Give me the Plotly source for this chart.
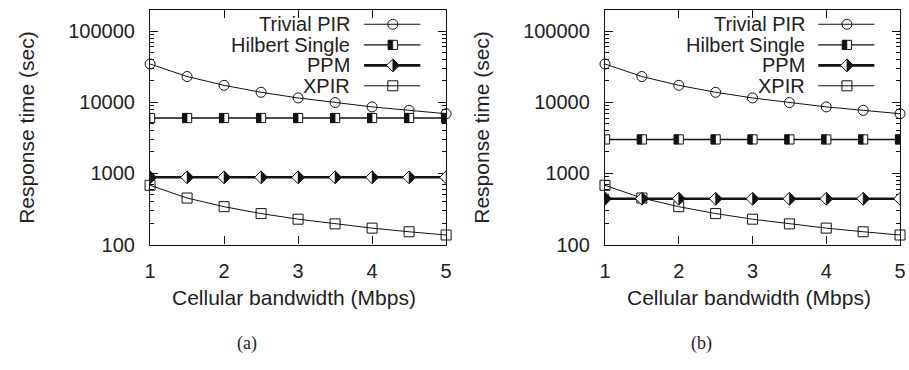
import plotly.graph_objects as go

# Cellular bandwidth (Mbps) sampled every 0.5
bandwidth = [1, 1.5, 2, 2.5, 3, 3.5, 4, 4.5, 5]

# Response times (sec)
trivial_pir = [34500, 23000, 17300, 13800, 11500, 9900, 8600, 7700, 6900]
xpir = [680, 450, 340, 272, 227, 195, 170, 151, 136]
hilbert_a = [6000, 6000, 6000, 6000, 6000, 6000, 6000, 6000, 6000]
ppm_a = [880, 880, 880, 880, 880, 880, 880, 880, 880]
hilbert_b = [3000, 3000, 3000, 3000, 3000, 3000, 3000, 3000, 3000]
ppm_b = [440, 440, 440, 440, 440, 440, 440, 440, 440]

series_names = ["Trivial PIR", "Hilbert Single", "PPM", "XPIR"]
y_tick_vals = [100, 1000, 10000, 100000]
y_tick_text = ["100", "1000", "10000", "100000"]
x_tick_vals = [1, 2, 3, 4, 5]
captions = ["(a)", "(b)"]

# minor log ticks 2..9 within each decade
y_minor_vals = [m * d for d in (100, 1000, 10000, 100000) for m in range(2, 10)]

W, H = 909, 370
FONT = "Liberation Sans, Arial, sans-serif"
BLACK = "#111111"
TEXT = "#222222"

# panel frames in pixels: (left, right), shared top/bottom
frames = [(146, 446), (607, 906)]
top_px, bot_px = 10, 252
y_dom = [(H - bot_px) / H, (H - top_px) / H]

# half-filled point glyphs as pixel paths (outline, filled half)
SQ = 4.6
DI = 6.4
half_glyphs = {
    "Hilbert Single": (
        f"M{-SQ},{-SQ} L{SQ},{-SQ} L{SQ},{SQ} L{-SQ},{SQ} Z",
        f"M{-SQ},{-SQ} L0,{-SQ} L0,{SQ} L{-SQ},{SQ} Z",
    ),
    "PPM": (
        f"M{-DI},0 L0,{DI} L{DI},0 L0,{-DI} Z",
        f"M0,{DI} L{DI},0 L0,{-DI} Z",
    ),
}

styles = {
    "Trivial PIR": dict(width=1.0, symbol="circle-open", size=10),
    "Hilbert Single": dict(width=1.4),
    "PPM": dict(width=2.6),
    "XPIR": dict(width=1.0, symbol="square-open", size=10),
}

fig = go.Figure()
shapes = []


def glyph_shapes(name, x, y, xref, yref):
    outline, half = half_glyphs[name]
    common = dict(type="path", xref=xref, yref=yref, xsizemode="pixel",
                  ysizemode="pixel", xanchor=x, yanchor=y, layer="above")
    shapes.append(dict(path=outline, fillcolor="white",
                       line=dict(color=BLACK, width=1), **common))
    shapes.append(dict(path=half, fillcolor=BLACK,
                       line=dict(color=BLACK, width=0.6), **common))


def add_series(name, xs, ys, xa, ya):
    st = styles[name]
    line = dict(color=BLACK, width=st["width"])
    if "symbol" in st:
        fig.add_trace(go.Scatter(
            x=xs, y=ys, mode="lines+markers", xaxis=xa, yaxis=ya,
            line=line, showlegend=False, cliponaxis=False,
            marker=dict(symbol=st["symbol"], size=st["size"], color=BLACK,
                        line=dict(color=BLACK, width=1)),
        ))
    else:
        fig.add_trace(go.Scatter(
            x=xs, y=ys, mode="lines", xaxis=xa, yaxis=ya,
            line=line, showlegend=False, cliponaxis=False,
        ))
        for x, y in zip(xs, ys):
            glyph_shapes(name, x, y, xa, ya)


panels = [(hilbert_a, ppm_a), (hilbert_b, ppm_b)]

annotations = []
legend_rows = [0.938, 0.850, 0.763, 0.676]

for i, ((left, right), (hil, ppm)) in enumerate(zip(frames, panels)):
    n = i + 1
    xa = "x" if n == 1 else f"x{n}"
    ya = "y" if n == 1 else f"y{n}"
    x_dom = [left / W, right / W]

    for name, ys in zip(series_names, [trivial_pir, hil, ppm, xpir]):
        add_series(name, bandwidth, ys, xa, ya)

    axis_common = dict(
        showline=True, linecolor=BLACK, linewidth=1.2, mirror="allticks",
        ticks="inside", tickcolor=BLACK, ticklen=8, tickwidth=1,
        showgrid=False, zeroline=False,
        tickfont=dict(family=FONT, size=20, color=TEXT),
    )
    fig.update_layout(**{
        ("xaxis" if n == 1 else f"xaxis{n}"): dict(
            domain=x_dom, range=[1, 5], anchor=ya,
            tickvals=x_tick_vals, ticklabelstandoff=8, **axis_common),
        ("yaxis" if n == 1 else f"yaxis{n}"): dict(
            domain=y_dom, type="log", range=[2, 5.301], anchor=xa,
            tickvals=y_tick_vals, ticktext=y_tick_text, ticklabelstandoff=10,
            minor=dict(ticks="inside", ticklen=4, tickcolor=BLACK, tickwidth=1,
                       tickvals=y_minor_vals, showgrid=False),
            **axis_common),
    })

    # overlay axes (unit square) holding the key of each panel
    k = 2 + n
    kx, ky = f"x{k}", f"y{k}"
    fig.update_layout(**{
        f"xaxis{k}": dict(range=[0, 1], visible=False, overlaying=xa, anchor=ky),
        f"yaxis{k}": dict(range=[0, 1], visible=False, overlaying=ya, anchor=kx),
    })
    for name, ry in zip(series_names, legend_rows):
        st = styles[name]
        fig.add_trace(go.Scatter(
            x=[0.723, 0.913], y=[ry, ry], mode="lines",
            xaxis=kx, yaxis=ky, showlegend=False,
            line=dict(color=BLACK, width=st["width"]), cliponaxis=False,
        ))
        if "symbol" in st:
            fig.add_trace(go.Scatter(
                x=[0.82], y=[ry], mode="markers", xaxis=kx, yaxis=ky,
                showlegend=False, cliponaxis=False,
                marker=dict(symbol=st["symbol"], size=st["size"], color=BLACK,
                            line=dict(color=BLACK, width=1)),
            ))
        else:
            glyph_shapes(name, 0.82, ry, kx, ky)
        annotations.append(dict(
            text=name, xref=kx, yref=ky, x=0.683, y=ry,
            xanchor="right", yanchor="middle", showarrow=False,
            font=dict(family=FONT, size=20, color=TEXT),
        ))

    # axis titles and caption
    annotations.append(dict(
        text="Cellular bandwidth (Mbps)", xref="paper", yref="paper",
        x=(left + right - 8) / 2 / W, y=(H - 307) / H,
        xanchor="center", yanchor="middle",
        showarrow=False, font=dict(family=FONT, size=21, color=TEXT),
    ))
    annotations.append(dict(
        text="Response time (sec)", xref="paper", yref="paper",
        x=(left - 126) / W, y=(H - 131) / H, xanchor="center", yanchor="middle",
        textangle=-90, showarrow=False, font=dict(family=FONT, size=21, color=TEXT),
    ))
    annotations.append(dict(
        text=captions[i], xref="paper", yref="paper",
        x=(left + 98) / W, y=(H - 354) / H, xanchor="center", yanchor="middle",
        showarrow=False, font=dict(family="Liberation Serif, serif", size=18, color=TEXT),
    ))

fig.update_layout(
    width=W, height=H, margin=dict(l=0, r=0, t=0, b=0),
    paper_bgcolor="white", plot_bgcolor="white",
    showlegend=False, annotations=annotations, shapes=shapes,
)

fig.write_html("out.html")
